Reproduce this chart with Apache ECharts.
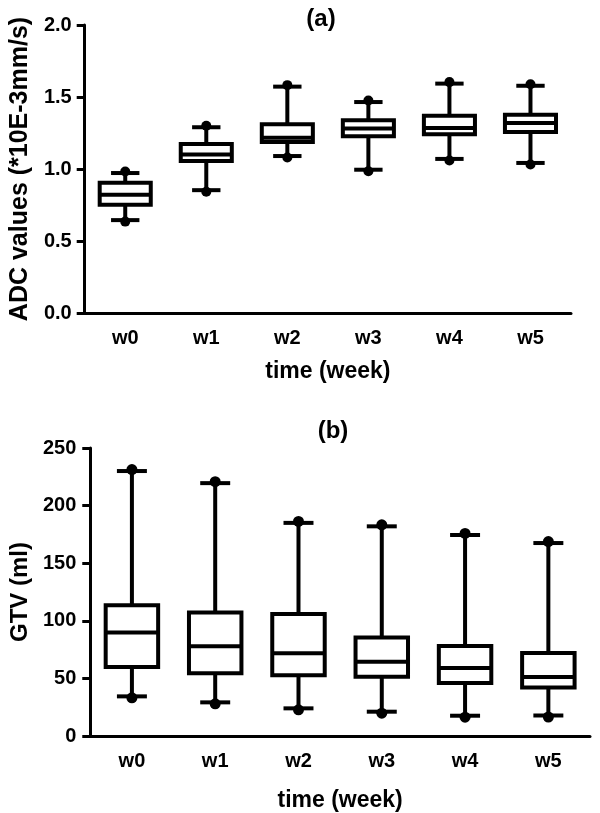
<!DOCTYPE html>
<html>
<head>
<meta charset="utf-8">
<script src="https://cdn.jsdelivr.net/npm/echarts@6/dist/echarts.min.js"></script>
<style>
html,body{margin:0;padding:0;background:#fff;}
#chart{width:600px;height:813px;}
</style>
</head>
<body>
<div id="chart"></div>
<script>
const categories = ['w0', 'w1', 'w2', 'w3', 'w4', 'w5'];

// (a) ADC values
const adcMin    = [0.645, 0.853, 1.090, 0.995, 1.070, 1.042];
const adcQ1     = [0.752, 1.055, 1.187, 1.227, 1.242, 1.257];
const adcMedian = [0.822, 1.101, 1.217, 1.281, 1.284, 1.320];
const adcQ3     = [0.905, 1.173, 1.311, 1.339, 1.369, 1.377];
const adcMax    = [0.972, 1.290, 1.572, 1.465, 1.593, 1.578];

// (b) GTV
const gtvMin    = [34.4, 29.2, 24.0, 21.1, 17.6, 17.8];
const gtvQ1     = [60.0, 54.5, 52.8, 51.5, 46.0, 42.0];
const gtvMedian = [89.8, 77.8, 71.9, 64.5, 59.0, 51.3];
const gtvQ3     = [113.4, 107.1, 105.8, 85.6, 78.2, 72.0];
const gtvMax    = [230.0, 219.5, 185.0, 182.0, 174.5, 167.5];

const adcTicks = [0, 0.5, 1.0, 1.5, 2.0];
const gtvTicks = [0, 50, 100, 150, 200, 250];

function rows(mn, q1, md, q3, mx) {
  return categories.map((c, i) => [i, mn[i], q1[i], md[i], q3[i], mx[i]]);
}

const FONT = '"Liberation Sans", Arial, Helvetica, sans-serif';

function makeRender(boxRatio, capRatio, dotR) {
  return function (params, api) {
    const i = api.value(0);
    const band = api.size([1, 0])[0];
    const pMin = api.coord([i, api.value(1)]);
    const pQ1 = api.coord([i, api.value(2)]);
    const pMed = api.coord([i, api.value(3)]);
    const pQ3 = api.coord([i, api.value(4)]);
    const pMax = api.coord([i, api.value(5)]);
    const cx = pMed[0];
    const bw = band * boxRatio;
    const cw = band * capRatio;
    const lw = 4;
    const st = { stroke: '#000', lineWidth: lw, fill: null };
    return {
      type: 'group',
      children: [
        { type: 'line', shape: { x1: cx, y1: pMax[1], x2: cx, y2: pQ3[1] }, style: st },
        { type: 'line', shape: { x1: cx, y1: pQ1[1], x2: cx, y2: pMin[1] }, style: st },
        { type: 'line', shape: { x1: cx - cw / 2, y1: pMax[1], x2: cx + cw / 2, y2: pMax[1] }, style: st },
        { type: 'line', shape: { x1: cx - cw / 2, y1: pMin[1], x2: cx + cw / 2, y2: pMin[1] }, style: st },
        { type: 'circle', shape: { cx: cx, cy: pMax[1] - 1.5, r: dotR }, style: { fill: '#000' } },
        { type: 'circle', shape: { cx: cx, cy: pMin[1] + 1.5, r: dotR }, style: { fill: '#000' } },
        { type: 'rect', shape: { x: cx - bw / 2, y: pQ3[1], width: bw, height: pQ1[1] - pQ3[1] },
          style: { fill: '#fff', stroke: '#000', lineWidth: lw } },
        { type: 'line', shape: { x1: cx - bw / 2, y1: pMed[1], x2: cx + bw / 2, y2: pMed[1] }, style: st }
      ]
    };
  };
}

const axisLineStyle = { color: '#000', width: 3 };
const labelStyle = { color: '#000', fontWeight: 'bold', fontSize: 20, fontFamily: FONT };
const nameStyle = { color: '#000', fontWeight: 'bold', fontSize: 23, fontFamily: FONT };

const chart = echarts.init(document.getElementById('chart'), null, { renderer: 'canvas' });
chart.setOption({
  backgroundColor: '#fff',
  animation: false,
  title: [
    { text: '(a)', left: 316, top: 2, textAlign: 'center',
      textStyle: { color: '#000', fontWeight: 'bold', fontSize: 24, fontFamily: FONT } },
    { text: '(b)', left: 328, top: 414, textAlign: 'center',
      textStyle: { color: '#000', fontWeight: 'bold', fontSize: 24, fontFamily: FONT } }
  ],
  grid: [
    { left: 77, top: 25, width: 494, height: 288 },
    { left: 78, top: 448, width: 512, height: 288 }
  ],
  xAxis: [0, 1].map(g => ({
    type: 'category',
    gridIndex: g,
    data: categories,
    boundaryGap: true,
    name: 'time (week)',
    nameLocation: 'middle',
    nameGap: g === 0 ? 47 : 53,
    nameTextStyle: nameStyle,
    axisLine: { lineStyle: axisLineStyle },
    axisTick: { alignWithLabel: true, length: 7, lineStyle: { color: '#000', width: 3 } },
    axisLabel: Object.assign({ margin: 15 }, labelStyle),
    splitLine: { show: false }
  })),
  yAxis: [
    {
      type: 'value', gridIndex: 0, min: 0, max: 2, interval: 0.5,
      name: 'ADC values (*10E-3mm/s)', nameLocation: 'middle', nameGap: 46,
      nameTextStyle: Object.assign({}, nameStyle, { fontSize: 25 }),
      axisLine: { show: true, lineStyle: axisLineStyle },
      axisTick: { show: true, length: 8, lineStyle: { color: '#000', width: 3 } },
      axisLabel: Object.assign({ margin: 13, formatter: v => adcTicks.includes(v) ? v.toFixed(1) : '' }, labelStyle),
      splitLine: { show: false }
    },
    {
      type: 'value', gridIndex: 1, min: 0, max: 250, interval: 50,
      name: 'GTV (ml)', nameLocation: 'middle', nameGap: 55,
      nameTextStyle: Object.assign({}, nameStyle, { fontSize: 24 }),
      axisLine: { show: true, lineStyle: axisLineStyle },
      axisTick: { show: true, length: 8, lineStyle: { color: '#000', width: 3 } },
      axisLabel: Object.assign({ margin: 14, formatter: v => gtvTicks.includes(v) ? String(v) : '' }, labelStyle),
      splitLine: { show: false }
    }
  ],
  series: [
    {
      type: 'custom', xAxisIndex: 0, yAxisIndex: 0,
      renderItem: makeRender(0.63, 0.35, 5),
      encode: { x: 0, y: [1, 2, 3, 4, 5] },
      data: rows(adcMin, adcQ1, adcMedian, adcQ3, adcMax),
      z: 5
    },
    {
      type: 'custom', xAxisIndex: 1, yAxisIndex: 1,
      renderItem: makeRender(0.63, 0.36, 5.5),
      encode: { x: 0, y: [1, 2, 3, 4, 5] },
      data: rows(gtvMin, gtvQ1, gtvMedian, gtvQ3, gtvMax),
      z: 5
    }
  ]
});
</script>
</body>
</html>
